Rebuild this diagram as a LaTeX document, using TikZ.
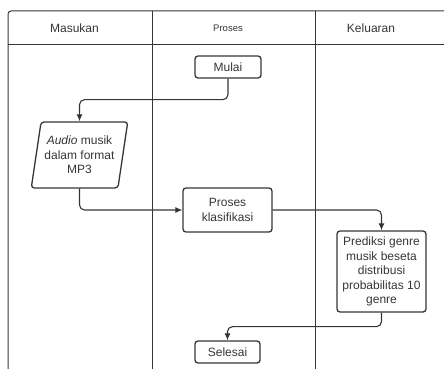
\documentclass[tikz,border=0pt]{standalone}
\usepackage{fontspec}
\setmainfont{Liberation Sans}
\usetikzlibrary{shapes.geometric,arrows.meta}
\definecolor{garis}{HTML}{353535}

\begin{document}
\begin{tikzpicture}[x=1pt,y=-1pt,
  kotak/.style={draw=garis,line width=1.3pt,rounded corners=3pt,align=center,
    text=garis,inner sep=1pt,font=\fontsize{12}{14.5}\selectfont},
  panah/.style={draw=garis,line width=1.1pt,rounded corners=5pt,
    -{Latex[length=7pt,width=6pt]}},
  judul/.style={text=garis,font=\fontsize{12}{14}\selectfont}]
\useasboundingbox (0,0) rectangle (444,369);
\clip (0,0) rectangle (444,369);
% lanes
\draw[garis,line width=1pt,rounded corners=3pt] (8,380) |- (460,11);
\draw[garis,line width=1pt] (8,45) -- (460,45);
\draw[garis,line width=1pt] (152,11) -- (152,380);
\draw[garis,line width=1pt] (315,11) -- (315,380);
\node[judul] (masukan) at (74.5,28) {Masukan};
\node[judul,font=\fontsize{9.5}{11}\selectfont] (proseshead) at (228,28) {Proses};
\node[judul] (keluaran) at (371,28) {Keluaran};
% nodes
\node[kotak,minimum width=66pt,minimum height=22pt] (mulai) at (228,67) {Mulai};
\node[kotak,trapezium,trapezium left angle=77,trapezium right angle=103,
  trapezium stretches=true,minimum width=97pt,minimum height=66pt] (input) at (79.5,155)
  {{\itshape Audio} musik\\dalam format\\MP3};
\node[kotak,minimum width=89pt,minimum height=44pt] (proses) at (227.5,210) {Proses\\klasifikasi};
\node[kotak,minimum width=89pt,minimum height=81pt] (prediksi) at (381.5,271.5)
  {Prediksi genre\\musik beseta\\distribusi\\probabilitas 10\\genre};
\node[kotak,minimum width=65pt,minimum height=22pt] (selesai) at (227.5,352) {Selesai};
% connectors
\draw[panah] (mulai.south) -- ++(0,21) -| (input.north);
\draw[panah] (input.south) |- (proses.west);
\draw[panah] (proses.east) -| (prediksi.north);
\draw[panah] (prediksi.south) -- ++(0,14) -| (selesai.north);
\end{tikzpicture}
\end{document}
